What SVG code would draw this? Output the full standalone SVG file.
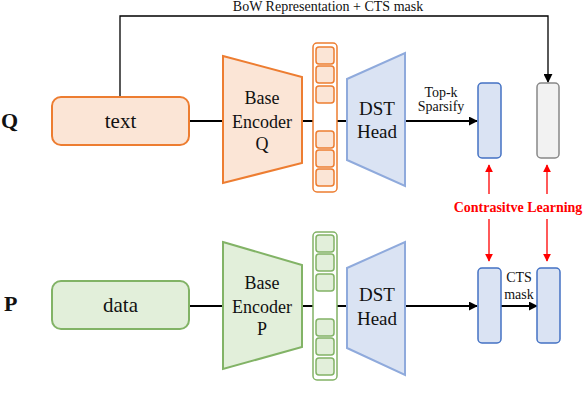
<svg xmlns="http://www.w3.org/2000/svg" width="584" height="414" viewBox="0 0 584 414" font-family="Liberation Serif, serif">
<style>
.t{font-family:'Liberation Serif',serif;fill:#111}
.big{font-size:18px;text-anchor:middle}
.nd{font-size:21px;text-anchor:middle}
.dst{font-size:19px;text-anchor:middle}
.sm{font-size:14px;text-anchor:middle}
.lbl{font-size:22px;font-weight:bold}
.cl{font-size:14px;font-weight:bold;fill:#ff0000;text-anchor:middle}
.qbox{fill:#fbe5d6;stroke:#ed7d31;stroke-width:2}
.pbox{fill:#e2efda;stroke:#82b366;stroke-width:2}
.qsq{fill:#fbe5d6;stroke:#ed7d31;stroke-width:1.5}
.psq{fill:#e2efda;stroke:#82b366;stroke-width:1.5}
.qcol{fill:#ffffff;stroke:#ed7d31;stroke-width:1.5}
.pcol{fill:#ffffff;stroke:#82b366;stroke-width:1.5}
.head{fill:#dae3f3;stroke:#8faadc;stroke-width:2}
.vec{fill:#dae3f3;stroke:#4472c4;stroke-width:1.5}
.gvec{fill:#f2f2f2;stroke:#888888;stroke-width:1.5}
.ln{fill:none;stroke:#000;stroke-width:2}
.thin{fill:none;stroke:#000;stroke-width:1.3}
.red{fill:none;stroke:#ff0000;stroke-width:1.3}
</style>
<defs>
<marker id="abk" viewBox="0 0 10 10" refX="9" refY="5" markerWidth="9" markerHeight="9" orient="auto" markerUnits="userSpaceOnUse"><path d="M0,0L10,5L0,10z" fill="#000"/></marker>
<marker id="ar" viewBox="0 0 10 10" refX="9" refY="5" markerWidth="8" markerHeight="8" orient="auto" markerUnits="userSpaceOnUse"><path d="M0,0L10,5L0,10z" fill="#ff0000"/></marker>
</defs>

<text class="t lbl" x="1" y="128">Q</text>
<text class="t lbl" x="4" y="311">P</text>

<g id="connectors">
<line class="ln" x1="189" y1="121" x2="223" y2="121"/>
<line class="ln" x1="302" y1="121" x2="313" y2="121"/>
<line class="ln" x1="337" y1="121" x2="347" y2="121"/>
<line class="ln" x1="405" y1="121" x2="477" y2="121" marker-end="url(#abk)"/>
<polyline class="thin" points="120,97 120,16 548,16 548,82" marker-end="url(#abk)"/>
<line class="ln" x1="189" y1="306" x2="223" y2="306"/>
<line class="ln" x1="302" y1="306" x2="313" y2="306"/>
<line class="ln" x1="337" y1="306" x2="347" y2="306"/>
<line class="ln" x1="405" y1="306" x2="477" y2="306" marker-end="url(#abk)"/>
<line class="ln" x1="501" y1="306" x2="537" y2="306" marker-end="url(#abk)"/>
<line class="red" x1="489" y1="194" x2="489" y2="165" marker-end="url(#ar)"/>
<line class="red" x1="547" y1="194" x2="547" y2="165" marker-end="url(#ar)"/>
<line class="red" x1="489" y1="219" x2="489" y2="261" marker-end="url(#ar)"/>
<line class="red" x1="547" y1="219" x2="547" y2="261" marker-end="url(#ar)"/>
<text class="t sm" x="328" y="11">BoW Representation + CTS mask</text>
<text class="t sm" x="441" y="97">Top-k</text>
<text class="t sm" x="441" y="111">Sparsify</text>
<text class="t sm" x="519" y="282">CTS</text>
<text class="t sm" x="519" y="299">mask</text>
<text class="t cl" x="518" y="212">Contrasitve Learning</text>
</g>

<g id="text-node">
<rect class="qbox" x="52" y="97" width="137" height="48" rx="9"/>
<text class="t nd" x="120.5" y="128">text</text>
</g>

<g id="encoder-q">
<polygon class="qbox" points="223,56 302,77 302,163 223,183"/>
<text class="t big" x="262" y="104">Base</text>
<text class="t big" x="262" y="128">Encoder</text>
<text class="t big" x="262" y="150">Q</text>
</g>

<g id="emb-q">
<rect class="qcol" x="313" y="43" width="24" height="149" rx="4"/>
<rect class="qsq" x="316" y="47" width="18" height="17" rx="3"/>
<rect class="qsq" x="316" y="66" width="18" height="17" rx="3"/>
<rect class="qsq" x="316" y="86" width="18" height="17" rx="3"/>
<rect class="qsq" x="316" y="131" width="18" height="17" rx="3"/>
<rect class="qsq" x="316" y="150" width="18" height="17" rx="3"/>
<rect class="qsq" x="316" y="169" width="18" height="17" rx="3"/>
</g>

<g id="dst-q">
<polygon class="head" points="347,79 405,53 405,186 347,160"/>
<text class="t dst" x="377" y="115">DST</text>
<text class="t dst" x="377" y="138">Head</text>
</g>

<g id="vec-q">
<rect class="vec" x="478" y="83" width="23" height="75" rx="4"/>
</g>
<g id="mask-q">
<rect class="gvec" x="537" y="83" width="22" height="75" rx="4"/>
</g>

<g id="data-node">
<rect class="pbox" x="52" y="281" width="137" height="48" rx="9"/>
<text class="t nd" x="120.5" y="312">data</text>
</g>

<g id="encoder-p">
<polygon class="pbox" points="223,242 302,265 302,347 223,369"/>
<text class="t big" x="262" y="289">Base</text>
<text class="t big" x="262" y="313">Encoder</text>
<text class="t big" x="262" y="335">P</text>
</g>

<g id="emb-p">
<rect class="pcol" x="313" y="232" width="24" height="148" rx="4"/>
<rect class="psq" x="316" y="235" width="18" height="17" rx="3"/>
<rect class="psq" x="316" y="254" width="18" height="17" rx="3"/>
<rect class="psq" x="316" y="274" width="18" height="17" rx="3"/>
<rect class="psq" x="316" y="319" width="18" height="17" rx="3"/>
<rect class="psq" x="316" y="338" width="18" height="17" rx="3"/>
<rect class="psq" x="316" y="358" width="18" height="17" rx="3"/>
</g>

<g id="dst-p">
<polygon class="head" points="347,268 405,242 405,375 347,348"/>
<text class="t dst" x="377" y="301">DST</text>
<text class="t dst" x="377" y="325">Head</text>
</g>

<g id="vec-p1">
<rect class="vec" x="478" y="268" width="23" height="75" rx="4"/>
</g>
<g id="vec-p2">
<rect class="vec" x="537" y="268" width="23" height="75" rx="4"/>
</g>
</svg>
